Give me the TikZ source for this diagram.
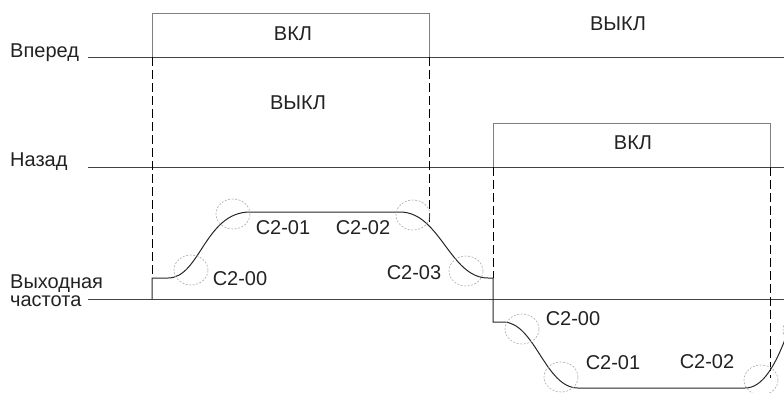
\documentclass[tikz,border=0pt]{standalone}
\usepackage{fontspec}
\setmainfont{Liberation Sans}
\usetikzlibrary{shapes.geometric}
\definecolor{txt}{HTML}{222222}
\definecolor{axc}{HTML}{444444}
\definecolor{boxc}{HTML}{808080}
\definecolor{zonec}{HTML}{AAAAAA}
\begin{document}
\begin{tikzpicture}[x=1pt,y=-1pt,
  lbl/.style={font=\fontsize{20}{18}\selectfont, text=txt, inner sep=0pt},
  axis/.style={draw=axc, line width=1pt},
  boxl/.style={draw=boxc, line width=1pt},
  dsh/.style={draw=black, line width=0.9pt, dash pattern=on 9pt off 4pt},
  curve/.style={draw=black!85, line width=1pt},
  zone/.style={draw=zonec, line width=0.6pt, dash pattern=on 2pt off 1.5pt, ellipse, minimum width=34pt, minimum height=30pt, inner sep=0pt}
]
\useasboundingbox (0,0) rectangle (784,392);
\clip (0,0) rectangle (784,392);

% axis labels
\node[lbl, anchor=west] (lfwd) at (10,53) {Вперед};
\node[lbl, anchor=west] (lbck) at (10,162) {Назад};
\node[lbl, anchor=north west, align=left] (lout) at (10,275) {Выходная\\частота};

% axes
\coordinate (fwdL) at (88,57);  \coordinate (fwdR) at (784,57);
\coordinate (bckL) at (88,167); \coordinate (bckR) at (784,167);
\coordinate (outL) at (88,299); \coordinate (outR) at (784,299);
\draw[axis] (fwdL) -- (fwdR);
\draw[axis] (bckL) -- (bckR);
\draw[axis] (outL) -- (outR);

% forward ON box
\coordinate (f1) at (152,57); \coordinate (f2) at (152,13);
\coordinate (f3) at (429,13); \coordinate (f4) at (429,57);
\draw[boxl] (f1) -- (f2) -- (f3) -- (f4);
% backward ON box
\coordinate (b1) at (493,167); \coordinate (b2) at (493,123);
\coordinate (b3) at (770,123); \coordinate (b4) at (770,167);
\draw[boxl] (b1) -- (b2) -- (b3) -- (b4);

% state texts
\node[lbl] (on1) at (293,34) {ВКЛ};
\node[lbl] (off1) at (298,103) {ВЫКЛ};
\node[lbl] (off2) at (618,24) {ВЫКЛ};
\node[lbl] (on2) at (633,143) {ВКЛ};

% curve key points
\coordinate (c0) at (152,299);
\coordinate (c1) at (152,278);
\coordinate (c2) at (168,278);
\coordinate (c3) at (250,212);
\coordinate (c4) at (400,212);
\coordinate (c5) at (429,222);
\coordinate (c6) at (488,278);
\coordinate (c7) at (493,278);
\coordinate (c8) at (493,322);
\coordinate (c9) at (503,322);
\coordinate (c10) at (578,388);
\coordinate (c11) at (745,388);
\coordinate (c12) at (770,378);

% dashed verticals
\draw[dsh] (f1) -- (c1);
\draw[dsh] (f4) -- (c5);
\draw[dsh] (b1) -- (c7);
\draw[dsh] (b4) -- (c12);

% output frequency curve
\draw[curve] (c0) -- (c1) -- (c2)
  .. controls (200,278) and (205,212) .. (c3) -- (c4)
  .. controls (440,212) and (450,278) .. (c6) -- (c7) -- (c8) -- (c9)
  .. controls (535,322) and (545,388) .. (c10) -- (c11)
  .. controls (762,388) and (776,368) .. (792,320);

% zones
\node[zone] (z1) at (191,270) {};
\node[zone] (z2) at (233,214) {};
\node[zone] (z3) at (413,215) {};
\node[zone] (z4) at (466,271) {};
\node[zone] (z5) at (522,329) {};
\node[zone] (z6) at (561,377) {};
\node[zone] (z7) at (761,380) {};
\node[zone] (z8) at (800,330) {};

% parameter labels
\node[lbl] (p1) at (240,279) {C2-00};
\node[lbl] (p2) at (283,228) {C2-01};
\node[lbl] (p3) at (363,228) {C2-02};
\node[lbl] (p4) at (414,273) {C2-03};
\node[lbl] (p5) at (573,319) {C2-00};
\node[lbl] (p6) at (613,363) {C2-01};
\node[lbl] (p7) at (707,362) {C2-02};
\end{tikzpicture}
\end{document}
